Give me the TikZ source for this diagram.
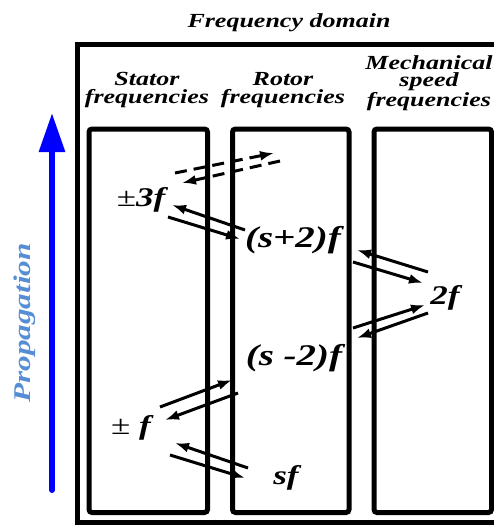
\documentclass[tikz,border=0pt]{standalone}
\usepackage{fontspec}
\newfontfamily\figfont{Liberation Serif}[FakeStretch=1.3]
\usetikzlibrary{arrows.meta}
\definecolor{propblue}{HTML}{558ED5}
\tikzset{
  % A frame round one group of frequencies
  column/.style={draw=black, line width=5pt, rounded corners=3pt},
  % Column headings
  head/.style={font=\figfont\bfseries\itshape\fontsize{20}{17.5}\selectfont,
    align=center, inner sep=0pt},
  % A frequency component
  freq/.style={font=\figfont\bfseries\itshape\fontsize{27}{28}\selectfont,
    inner sep=0pt},
  bigfreq/.style={freq, font=\figfont\bfseries\itshape\fontsize{30}{31}\selectfont},
  % Coupling between components
  link/.style={-{Latex[length=14pt,width=10pt]}, line width=3pt},
  linkdash/.style={link, dash pattern=on 12pt off 7pt},
}
\newcommand{\pmsign}{{\upshape\mdseries ±}}

\begin{document}
\begin{tikzpicture}[x=1pt, y=-1pt]
\useasboundingbox (0,0) rectangle (494,527);
\clip (0,0) rectangle (494,527);

% frames
\draw[line width=5pt] (77.5,45) rectangle (520,522.5);
\draw[column] (89,129) rectangle (207.5,512.5);
\draw[column] (232.5,129) rectangle (349,512.5);
\draw[column] (374,129) rectangle (491.5,512.5);

% headings
\node[head, anchor=base] (title) at (289,28) {Frequency domain};
\node[head] (stator) at (147,90) {Stator\\frequencies};
\node[head] (rotor) at (283,90) {Rotor\\frequencies};
\node[head] (mech) at (429,83) {Mechanical\\speed\\frequencies};

% propagation
\coordinate (propfoot) at (52,490);
\coordinate (proptip) at (52,113);
\draw[blue, line width=6pt, line cap=round, -{Triangle[length=39pt,width=25pt]}]
  (propfoot) -- (proptip);
\node[font=\figfont\bfseries\itshape\fontsize{24}{24}\selectfont,
  text=propblue, rotate=90, inner sep=0pt] (prop) at (25,323) {Propagation};

% frequency components
\node[freq] (pmthree) at (141,200) {\pmsign3f};
\node[bigfreq] (sptwo) at (293,240) {(s+2)f};
\node[freq] (twof) at (445,298) {2f};
\node[bigfreq] (smtwo) at (294,358) {(s -2)f};
\node[freq] (pmone) at (131,428) {\pmsign\ f};
\node[freq] (sf) at (286,478) {sf};

% couplings
\coordinate (d1a) at (175,173); \coordinate (d1b) at (274,153);
\coordinate (d2a) at (280,161); \coordinate (d2b) at (182,183);
\draw[linkdash] (d1a) -- (d1b);
\draw[linkdash] (d2a) -- (d2b);

\coordinate (p1a) at (245,230); \coordinate (p1b) at (172,205);
\coordinate (p2a) at (168,217); \coordinate (p2b) at (240,239);
\draw[link] (p1a) -- (p1b);
\draw[link] (p2a) -- (p2b);

\coordinate (q1a) at (428,272); \coordinate (q1b) at (357,250);
\coordinate (q2a) at (353,262); \coordinate (q2b) at (423,283);
\draw[link] (q1a) -- (q1b);
\draw[link] (q2a) -- (q2b);

\coordinate (r1a) at (353,328); \coordinate (r1b) at (425,305);
\coordinate (r2a) at (428,313); \coordinate (r2b) at (357,338);
\draw[link] (r1a) -- (r1b);
\draw[link] (r2a) -- (r2b);

\coordinate (u1a) at (160,407); \coordinate (u1b) at (232,380);
\coordinate (u2a) at (238,393); \coordinate (u2b) at (165,420);
\draw[link] (u1a) -- (u1b);
\draw[link] (u2a) -- (u2b);

\coordinate (v1a) at (248,468); \coordinate (v1b) at (175,443);
\coordinate (v2a) at (170,455); \coordinate (v2b) at (245,478);
\draw[link] (v1a) -- (v1b);
\draw[link] (v2a) -- (v2b);

\end{tikzpicture}
\end{document}
